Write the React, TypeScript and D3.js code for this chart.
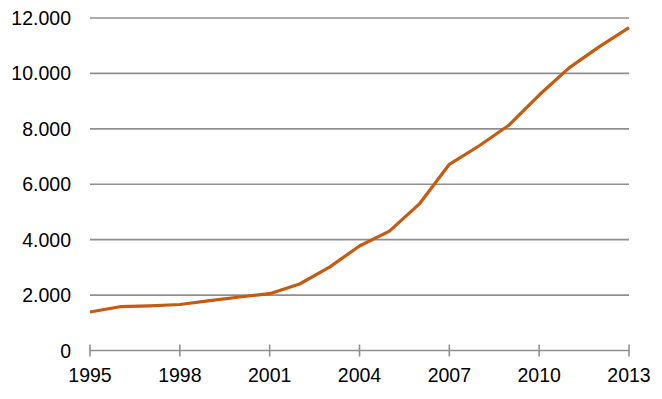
import React, { useEffect, useRef } from 'react';
import * as d3 from 'd3';

// values
const years = [1995, 1996, 1997, 1998, 1999, 2000, 2001, 2002, 2003, 2004, 2005, 2006, 2007, 2008, 2009, 2010, 2011, 2012, 2013];
const values = [1390, 1580, 1610, 1660, 1800, 1930, 2050, 2400, 3010, 3770, 4310, 5290, 6720, 7390, 8140, 9220, 10200, 10960, 11650];
const yTicks = [0, 2000, 4000, 6000, 8000, 10000, 12000];
const xTicks = [1995, 1998, 2001, 2004, 2007, 2010, 2013];

const width = 662;
const height = 399;

const fmt = (v: number) => d3.format(',')(v).replace(/,/g, '.');

const App = () => {
  const svgRef = useRef<SVGSVGElement>(null);

  useEffect(() => {
    const svg = d3.select(svgRef.current);
    svg.selectAll('*').remove();

    const margin = { top: 18, right: 33, bottom: 48.5, left: 90 };
    const x = d3.scaleLinear().domain([1995, 2013]).range([margin.left, width - margin.right]);
    const y = d3.scaleLinear().domain([0, 12000]).range([height - margin.bottom, margin.top]);

    const grid = '#8f8f8f';
    const font = '"Liberation Sans", Arial, sans-serif';

    // horizontal gridlines
    svg.append('g')
      .selectAll('line')
      .data(yTicks)
      .join('line')
      .attr('x1', x(1995))
      .attr('x2', x(2013))
      .attr('y1', d => y(d))
      .attr('y2', d => y(d))
      .attr('stroke', grid)
      .attr('stroke-width', 1.6);

    // y labels
    svg.append('g')
      .selectAll('text')
      .data(yTicks)
      .join('text')
      .attr('x', 71)
      .attr('y', d => y(d))
      .attr('dy', '0.36em')
      .attr('text-anchor', 'end')
      .attr('font-family', font)
      .attr('font-size', 19.5)
      .attr('fill', '#000')
      .text(d => fmt(d));

    // x tick marks
    svg.append('g')
      .selectAll('line')
      .data(xTicks)
      .join('line')
      .attr('x1', d => x(d))
      .attr('x2', d => x(d))
      .attr('y1', y(0) - 6)
      .attr('y2', y(0) + 6)
      .attr('stroke', grid)
      .attr('stroke-width', 1.6);

    // x labels
    svg.append('g')
      .selectAll('text')
      .data(xTicks)
      .join('text')
      .attr('x', d => x(d))
      .attr('y', 381.5)
      .attr('text-anchor', 'middle')
      .attr('font-family', font)
      .attr('font-size', 19.5)
      .attr('fill', '#000')
      .text(d => d);

    // the line
    const line = d3.line<number>()
      .x((d, i) => x(years[i]))
      .y(d => y(d));

    svg.append('path')
      .datum(values)
      .attr('d', line)
      .attr('fill', 'none')
      .attr('stroke', '#C55A11')
      .attr('stroke-width', 3.2)
      .attr('stroke-linejoin', 'round');
  }, []);

  return (
    <svg
      ref={svgRef}
      width={width}
      height={height}
      style={{ position: 'absolute', left: 0, top: 0, background: '#fff' }}
    />
  );
};

export default App;
